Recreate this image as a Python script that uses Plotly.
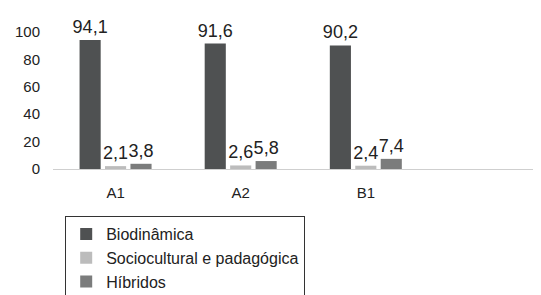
import plotly.graph_objects as go

categories = ["A1", "A2", "B1"]
series_names = ["Biodinâmica", "Sociocultural e padagógica", "Híbridos"]
biodinamica = [94.1, 91.6, 90.2]
sociocultural = [2.1, 2.6, 2.4]
hibridos = [3.8, 5.8, 7.4]
colors = ["#4f5152", "#bcbcbc", "#7b7c7c"]
y_ticks = [0, 20, 40, 60, 80, 100]

fig = go.Figure()
for name, vals, c in zip(series_names, [biodinamica, sociocultural, hibridos], colors):
    fig.add_trace(go.Bar(
        x=categories, y=vals, name=name, marker_color=c,
        marker_line_width=0,
        texttemplate="%{y:.1f}", textposition="outside", constraintext="none",
        textfont=dict(size=18, color="#222"), cliponaxis=False,
    ))

fig.update_layout(
    width=533, height=287,
    margin=dict(l=45, r=0, t=24, b=126, autoexpand=False),
    paper_bgcolor="white", plot_bgcolor="white",
    separators=",.",
    font=dict(family="Liberation Sans, Arial, sans-serif", color="#222", size=15),
    barmode="group", bargap=0.39, bargroupgap=0.17,
    xaxis=dict(range=[-0.5, 3.4], showline=True, linecolor="#cfcfcf", linewidth=1,
               showgrid=False, ticks="", tickfont=dict(size=15), ticklabelstandoff=10),
    yaxis=dict(range=[0, 100], tickvals=y_ticks, showgrid=False, zeroline=False,
               showline=False, ticks="", tickfont=dict(size=15), ticklabelstandoff=12),
    legend=dict(x=0.025, y=-0.343, xanchor="left", yanchor="top",
                bordercolor="#333", borderwidth=1, font=dict(size=16),
                traceorder="normal", itemwidth=30, tracegroupgap=0),
    showlegend=True,
)
fig.write_html("out.html")
